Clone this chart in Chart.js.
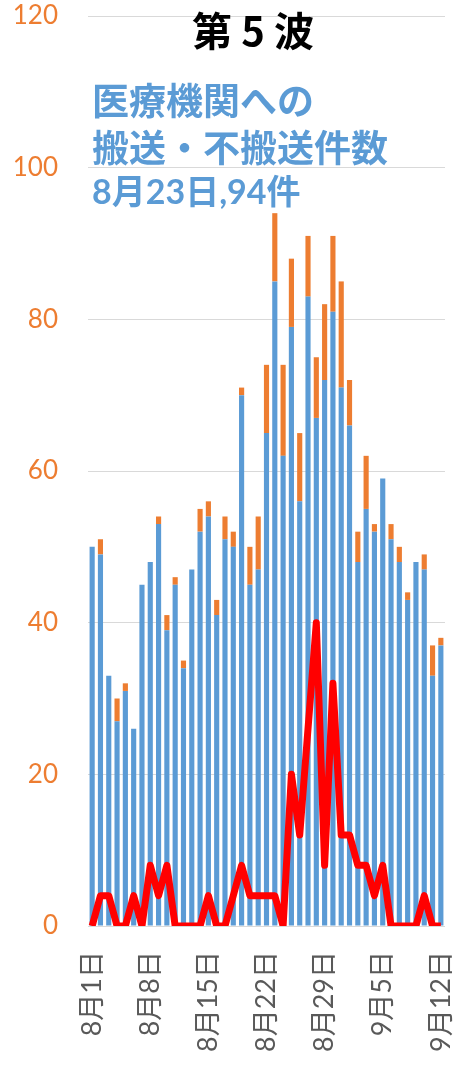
<!DOCTYPE html>
<html>
<head>
<meta charset="utf-8">
<script src="https://cdn.jsdelivr.net/npm/chart.js@4.4.1/dist/chart.umd.min.js"></script>
<style>
  html, body { margin: 0; padding: 0; background: #ffffff; }
  #wrap { position: relative; width: 457px; height: 1071px; }
</style>
</head>
<body>
<div id="wrap"><canvas id="c"></canvas></div>
<script>
const categories = [
  "8月1日","8月2日","8月3日","8月4日","8月5日","8月6日","8月7日",
  "8月8日","8月9日","8月10日","8月11日","8月12日","8月13日","8月14日",
  "8月15日","8月16日","8月17日","8月18日","8月19日","8月20日","8月21日",
  "8月22日","8月23日","8月24日","8月25日","8月26日","8月27日","8月28日",
  "8月29日","8月30日","8月31日","9月1日","9月2日","9月3日","9月4日",
  "9月5日","9月6日","9月7日","9月8日","9月9日","9月10日","9月11日",
  "9月12日"
];
const shownTickLabels = ["8月1日","8月8日","8月15日","8月22日","8月29日","9月5日","9月12日"];
const transported = [
  50,49,33,27,31,26,45,48,53,39,45,34,47,52,54,41,51,50,70,45,47,
  65,85,62,79,56,83,67,72,81,71,66,48,55,52,59,51,48,43,48,47,33,37
];
const notTransported = [
  0,2,0,3,1,0,0,0,1,2,1,1,0,3,2,2,3,2,1,5,7,
  9,9,12,9,9,8,8,10,10,14,6,4,7,1,0,2,2,1,0,2,4,1
];
const redLine = [
  0,4,4,0,0,4,0,8,4,8,0,0,0,0,4,0,0,4,8,4,4,
  4,4,0,20,12,26,40,8,32,12,12,8,8,4,8,0,0,0,0,4,0,0
];
const yTicks = [0,20,40,60,80,100,120];
const titleText = "第 5 波";
const noteLines = ["医療機関への", "搬送・不搬送件数", "8月23日,94件"];

const textPlugin = {
  id: 'texts',
  afterDraw(chart) {
    const ctx = chart.ctx;
    ctx.save();
    ctx.textBaseline = 'middle';
    ctx.textAlign = 'center';
    ctx.fillStyle = '#000000';
    ctx.font = 'bold 40px "Noto Sans CJK JP"';
    ctx.fillText(titleText, 253, 31);
    ctx.textAlign = 'left';
    ctx.fillStyle = '#5B9BD5';
    ctx.font = 'bold 37px "Noto Sans CJK JP"';
    ctx.fillText(noteLines[0], 92, 101);
    ctx.fillText(noteLines[1], 92, 148);
    ctx.font = 'bold 34px Lato, "Noto Sans CJK JP"';
    ctx.fillText(noteLines[2], 92, 193);
    ctx.restore();
  }
};

new Chart(document.getElementById('c'), {
  type: 'bar',
  data: {
    labels: categories,
    datasets: [
      {
        type: 'line',
        label: '赤線',
        data: redLine,
        borderColor: '#FF0000',
        backgroundColor: '#FF0000',
        borderWidth: 7,
        borderJoinStyle: 'round',
        borderCapStyle: 'butt',
        pointRadius: 0,
        tension: 0,
        stack: 'line',
        order: 0
      },
      {
        label: '搬送',
        data: transported,
        backgroundColor: '#5B9BD5',
        stack: 'bars',
        barPercentage: 0.62,
        categoryPercentage: 1,
        order: 1
      },
      {
        label: '不搬送',
        data: notTransported,
        backgroundColor: '#ED7D31',
        stack: 'bars',
        barPercentage: 0.62,
        categoryPercentage: 1,
        order: 1
      }
    ]
  },
  options: {
    responsive: true,
    maintainAspectRatio: false,
    animation: false,
    layout: { padding: { top: 16, right: 12, left: 0, bottom: 0 } },
    plugins: { legend: { display: false }, tooltip: { enabled: false }, title: { display: false } },
    scales: {
      x: {
        stacked: true,
        grid: { display: false, drawTicks: false },
        border: { display: false },
        ticks: {
          autoSkip: false,
          minRotation: 90,
          maxRotation: 90,
          padding: 25,
          color: '#595959',
          font: { family: 'Lato, "Noto Sans CJK JP"', size: 27 },
          callback: function(v, i) {
            const l = categories[i];
            return shownTickLabels.includes(l) ? l : '';
          }
        },
        afterFit: function(scale) {
          scale.height = 145;
          scale.paddingLeft = 0;
          scale.paddingRight = 0;
        }
      },
      y: {
        stacked: true,
        min: 0,
        max: 120,
        afterBuildTicks: function(scale) { scale.ticks = yTicks.map(v => ({ value: v })); },
        grid: { color: '#D9D9D9', lineWidth: 1, drawTicks: false },
        border: { display: false },
        ticks: {
          padding: 30,
          color: '#ED7D31',
          font: { family: 'Lato', size: 26 }
        },
        afterFit: function(scale) {
          scale.width = 88;
          scale.paddingTop = 0;
          scale.paddingBottom = 0;
        }
      }
    }
  },
  plugins: [textPlugin]
});
</script>
</body>
</html>
